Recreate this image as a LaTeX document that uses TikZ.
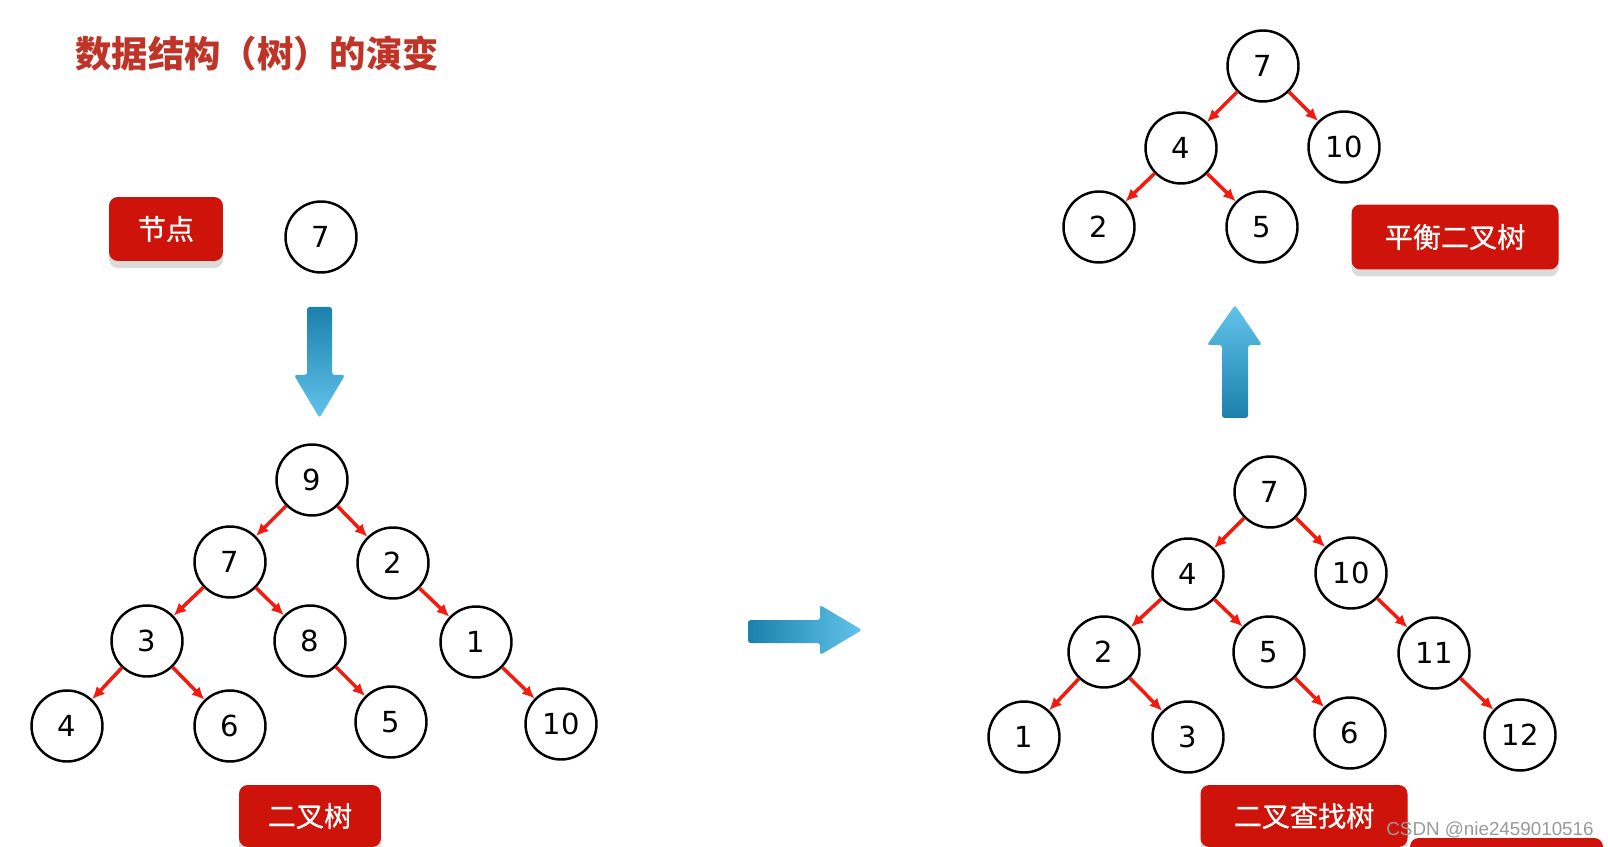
\documentclass[tikz,border=0pt]{standalone}
\usepackage{fontspec}
\setmainfont{DejaVu Sans}
\newfontfamily\cjk{Noto Sans CJK SC}
\newfontfamily\cjklabel[FakeBold=0.7]{Noto Sans CJK SC}
\newfontfamily\wmfont{Liberation Sans}
\usetikzlibrary{arrows.meta,shadows}
\definecolor{titlered}{RGB}{192,52,40}
\definecolor{boxred}{RGB}{206,20,10}
\definecolor{edgered}{RGB}{245,26,14}
\definecolor{arrowdark}{RGB}{28,128,172}
\definecolor{arrowlight}{RGB}{98,196,236}

\begin{document}
\begin{tikzpicture}[x=0.02cm,y=-0.02cm]
\tikzstyle{N}=[draw,circle,line width=1.4pt,minimum size=1.42cm,inner sep=0pt,
font=\fontsize{16.5}{19}\selectfont]
\tikzstyle{L}=[fill=boxred,rounded corners=5pt,text=white,inner sep=0pt,
font=\cjklabel\fontsize{16}{19}\selectfont,
drop shadow={shadow xshift=0pt,shadow yshift=-0.14cm,fill=black!14,opacity=1}]
\tikzstyle{E}=[edgered,line width=2pt,-{Latex[length=0.25cm,width=0.23cm]}]
\tikzstyle{A}=[rounded corners=1.5pt]
\useasboundingbox (0,0) rectangle (1608,847);
\clip (0,0) rectangle (1608,847);
% title
\node[anchor=west,inner sep=0pt,text=titlered,font=\cjk\bfseries\fontsize{20.7}{24}\selectfont]
(title) at (75,54) {数据结构（树）的演变};
% single node
\node[L,minimum width=2.28cm,minimum height=1.28cm] (lnode) at (166,229) {节点};
\node[N] (n7) at (321,237) {7};
\shade[A,top color=arrowdark,bottom color=arrowlight]
(307,307) -- (332,307) -- (332,375) -- (345,375) -- (319.5,418) -- (294,375) -- (307,375) -- cycle;
% binary tree
\node[N] (b9) at (312,480) {9};
\node[N] (b7) at (230,562) {7};
\node[N] (b2) at (393,563) {2};
\node[N] (b3) at (147,641) {3};
\node[N] (b8) at (310,641) {8};
\node[N] (b1) at (476,642) {1};
\node[N] (b4) at (67,726) {4};
\node[N] (b6) at (230,726) {6};
\node[N] (b5) at (391,722) {5};
\node[N] (b10) at (561,724) {10};
\foreach \p/\c in {b9/b7,b9/b2,b7/b3,b7/b8,b2/b1,b3/b4,b3/b6,b8/b5,b1/b10}
  \draw[E] (\p) -- (\c);
\node[L,minimum width=2.84cm,minimum height=1.24cm] (lbin) at (310,816) {二叉树};
% arrow to search tree
\shade[A,left color=arrowdark,right color=arrowlight]
(748,620) -- (820,620) -- (820,605) -- (862,630) -- (820,655) -- (820,643) -- (748,643) -- cycle;
% binary search tree
\node[N] (s7) at (1270,492) {7};
\node[N] (s4) at (1188,574) {4};
\node[N] (s10) at (1351,573) {10};
\node[N] (s2) at (1104,652) {2};
\node[N] (s5) at (1269,652) {5};
\node[N] (s11) at (1434,653) {11};
\node[N] (s1) at (1024,737) {1};
\node[N] (s3) at (1188,737) {3};
\node[N] (s6) at (1350,733) {6};
\node[N] (s12) at (1520,735) {12};
\foreach \p/\c in {s7/s4,s7/s10,s4/s2,s4/s5,s10/s11,s2/s1,s2/s3,s5/s6,s11/s12}
  \draw[E] (\p) -- (\c);
\node[L,minimum width=4.14cm,minimum height=1.24cm] (lbst) at (1304,816) {二叉查找树};
% arrow to balanced tree
\shade[A,top color=arrowlight,bottom color=arrowdark]
(1235,305) -- (1262,345) -- (1248,345) -- (1248,418) -- (1222,418) -- (1222,345) -- (1207,345) -- cycle;
% balanced tree
\node[N] (a7) at (1263,66) {7};
\node[N] (a4) at (1181,148) {4};
\node[N] (a10) at (1344,147) {10};
\node[N] (a2) at (1099,227) {2};
\node[N] (a5) at (1262,227) {5};
\foreach \p/\c in {a7/a4,a7/a10,a4/a2,a4/a5}
  \draw[E] (\p) -- (\c);
\node[L,minimum width=4.14cm,minimum height=1.3cm] (lavl) at (1455,237) {平衡二叉树};
% cut-off box and watermark
\fill[boxred,rounded corners=5pt] (1410,838) rectangle (1603,890);
\node[font=\wmfont\fontsize{10.7}{12}\selectfont,text=black!40,inner sep=0pt] (wm) at (1490,830) {CSDN @nie2459010516};
\end{tikzpicture}
\end{document}
